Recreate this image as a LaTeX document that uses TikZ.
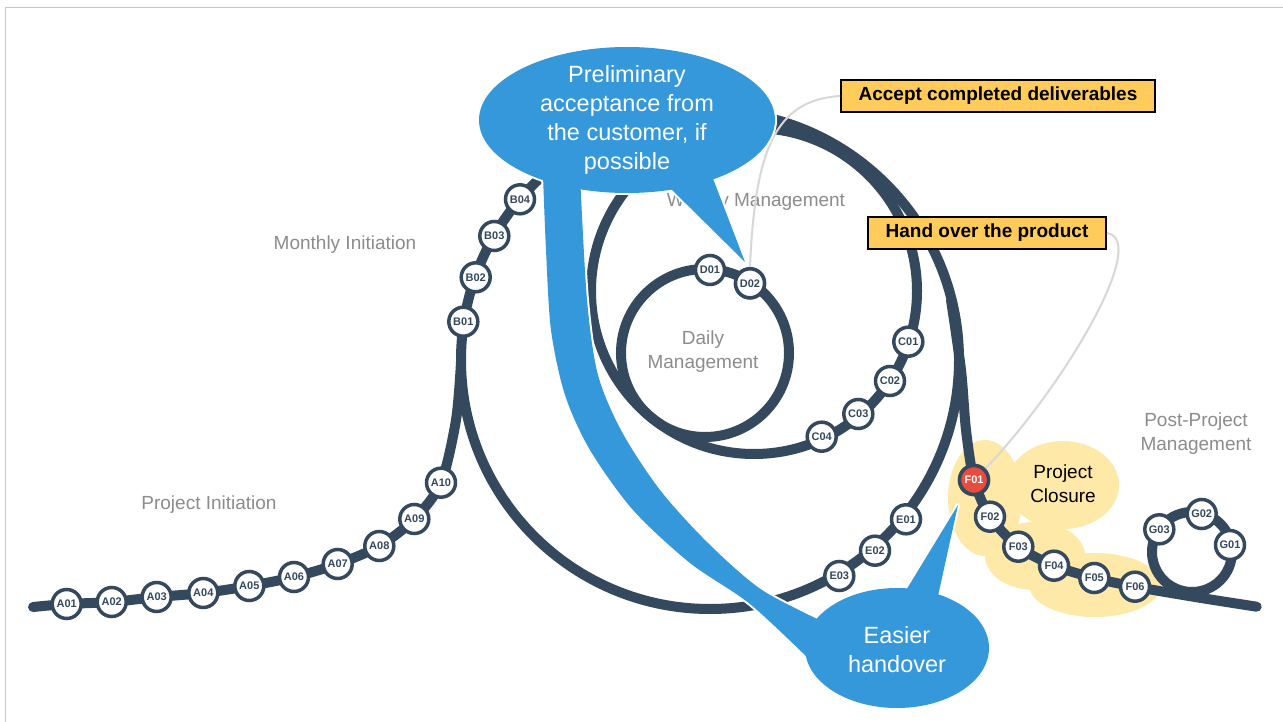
\documentclass[tikz,border=0pt]{standalone}
\usepackage{fontspec}
\setmainfont{Liberation Sans}
\definecolor{track}{HTML}{34495E}
\definecolor{callblue}{HTML}{3498DB}
\definecolor{closered}{HTML}{E74C3C}
\definecolor{boxyellow}{RGB}{255,204,92}
\definecolor{paleyellow}{RGB}{255,233,168}
\definecolor{labelgray}{RGB}{140,140,140}
\definecolor{linkgray}{RGB}{215,215,215}
\definecolor{framegray}{RGB}{200,200,200}
\begin{document}
\begin{tikzpicture}[x=1pt,y=-1pt,
  stn/.style={circle, draw=track, line width=3.5pt, fill=white, minimum size=29pt, inner sep=0pt, font=\fontsize{11}{11}\selectfont\bfseries, text=track},
  redstn/.style={stn, fill=closered, text=white},
  trk/.style={draw=track, line width=10pt},
  phase/.style={font=\fontsize{19}{24}\selectfont, text=labelgray, align=center},
  closetext/.style={font=\fontsize{19}{24}\selectfont, text=black, align=center},
  calltext/.style={font=\fontsize{23.5}{29}\selectfont, text=white, align=center},
  taskbox/.style={draw=black, line width=1.8pt, fill=boxyellow, font=\fontsize{19}{19}\selectfont\bfseries, minimum height=32pt, inner sep=0pt},
  link/.style={draw=linkgray, line width=2pt},
  callout/.style={fill=callblue},
  calledge/.style={draw=white, line width=4pt, line join=round},
]
\useasboundingbox (0,0) rectangle (1283,722);
\fill[white] (0,0) rectangle (1283,722);
\draw[framegray, line width=1pt] (5.5,722) -- (5.5,7.5) -- (1283,7.5);

% project closure blob
\fill[paleyellow] (985,498) ellipse[x radius=37pt, y radius=58pt];
\fill[paleyellow] (1063,485) ellipse[x radius=56pt, y radius=44pt];
\fill[paleyellow] (1035,556) ellipse[x radius=50pt, y radius=34pt];
\fill[paleyellow] (1095,585) ellipse[x radius=66pt, y radius=32pt];

% tracks
\draw[trk] (710,360) circle[radius=249pt];
\draw[trk] (754,291) circle[radius=163pt];
\draw[trk] (705,353) circle[radius=84pt];
\draw[trk] (1192,552) circle[radius=40pt];
\draw[trk, line cap=round] plot[smooth, tension=0.5] coordinates {(33,607) (66.7,604) (111.7,602) (156.7,597) (203.3,593) (249.3,586) (294,577) (337.7,564) (379.3,546) (414.3,519) (441,482.7) (456,420) (461,362)};
\draw[trk, line cap=round] plot[smooth, tension=0.5] coordinates {(951,300) (961,370) (966,430) (974,480) (990,516.7) (1018.3,546.7) (1054,565.7) (1094.3,578) (1135,586.7) (1195,597) (1256.7,606.7)};

% labels
\node[phase] (lpi) at (209,505) {Project Initiation};
\node[phase] (lmi) at (345,245) {Monthly Initiation};
\node[phase] (lwm) at (756,202) {Weekly Management};
\node[phase] (ldm) at (703,352) {Daily\\Management};
\node[phase] (lpp) at (1196,434) {Post-Project\\Management};
\node[closetext] (lpc) at (1063,484) {Project\\Closure};

% stations
\foreach \n/\x/\y in {A01/66.7/604, A02/111.7/602, A03/156.7/597, A04/203.3/593, A05/249.3/586, A06/294/577, A07/337.7/564, A08/379.3/546, A09/414.3/519, A10/441/482.7,
  B01/463.3/321.7, B02/475.7/277.3, B03/494.3/236, B04/520/199.3,
  C01/908.3/341.7, C02/890/381, C03/858.3/414, C04/821.7/436.7,
  D01/710/270, D02/750/283.3,
  E01/906/519.3, E02/875/550.7, E03/839.3/576,
  F02/990/516.7, F03/1018.3/546.7, F04/1054/565.7, F05/1094.3/578, F06/1135/586.7,
  G01/1230/545, G02/1201.7/514, G03/1159.3/529.3}
  \node[stn] (\n) at (\x,\y) {\n};
\node[redstn] (F01) at (974,480) {F01};

% task boxes
\node[taskbox, minimum width=314pt] (acc) at (998,96) {Accept completed deliverables};
\node[taskbox, minimum width=238pt] (hand) at (987,233) {Hand over the product};

% links
\draw[link] (D02.north) .. controls (755,150) and (775,100) .. (acc.west);
\draw[link] (F01.north east) .. controls (1065,385) and (1150,240) .. (hand.east);
\node[stn] at (D02) {D02};
\node[redstn] at (F01) {F01};

% callouts: white edges first, then fills
\path[calledge] (627,120) ellipse[x radius=148pt, y radius=73pt];
\path[calledge] (668,186) -- (745,262) -- (712,176) -- cycle;
\path[calledge] (897,648) ellipse[x radius=92pt, y radius=60pt];
\path[calledge] (905,592) -- (958,505) -- (938,596) -- cycle;
\path[calledge] plot[smooth, tension=0.5] coordinates {(543,175) (546,250) (551,330) (565,395) (590,450) (633,510) (690,563) (750,604) (812,662)}
  -- plot[smooth, tension=0.5] coordinates {(830,625) (762,590) (708,543) (660,490) (622,432) (598,375) (587,300) (580,175)} -- cycle;

\path[callout] (627,120) ellipse[x radius=148pt, y radius=73pt];
\path[callout] (668,186) -- (745,262) -- (712,176) -- cycle;
\path[callout] (897,648) ellipse[x radius=92pt, y radius=60pt];
\path[callout] (905,592) -- (958,505) -- (938,596) -- cycle;
\path[callout] plot[smooth, tension=0.5] coordinates {(543,175) (546,250) (551,330) (565,395) (590,450) (633,510) (690,563) (750,604) (812,662)}
  -- plot[smooth, tension=0.5] coordinates {(830,625) (762,590) (708,543) (660,490) (622,432) (598,375) (587,300) (580,175)} -- cycle;

\node[calltext] (c1) at (627,120) {Preliminary\\acceptance from\\the customer, if\\possible};
\node[calltext] (c2) at (897,650) {Easier\\handover};
\end{tikzpicture}
\end{document}
